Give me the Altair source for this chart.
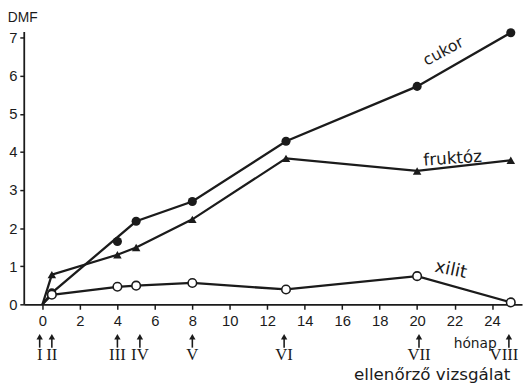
import altair as alt
import pandas as pd

# ---- data ----
months = [0.5, 4, 5, 8, 13, 20, 25]
cukor = [0.30, 1.65, 2.18, 2.70, 4.28, 5.72, 7.13]
cukor_on_line = [True, False, True, True, True, True, True]
fruktoz = [0.78, 1.30, 1.49, 2.23, 3.83, 3.50, 3.78]
xilit = [0.25, 0.46, 0.49, 0.56, 0.39, 0.74, 0.05]
origin_month = 0
origin_value = 0

# arrow positions of the check-ups as read on the month axis
visit_months = [-0.15, 0.5, 4, 5.2, 8, 12.9, 20.1, 24.9]
visit_labels = ["I", "II", "III", "IV", "V", "VI", "VII", "VIII"]

x_ticks = list(range(0, 25, 2))
y_ticks = list(range(0, 8))

series_names = ["cukor", "fruktóz", "xilit"]
label_x = [21.4, 21.9, 21.8]
label_y = [6.64, 3.82, 0.90]
label_angle = [332, 356, 12]
label_size = [16, 17, 18]

INK = "#1b1b1b"
SANS = "Liberation Sans"
WIDE = "DejaVu Sans"
SERIF = "Liberation Serif"

# ---- tables ----
series_values = {"cukor": cukor, "fruktóz": fruktoz, "xilit": xilit}
masks = {"cukor": cukor_on_line,
         "fruktóz": [True] * len(months),
         "xilit": [True] * len(months)}

line_rows, point_rows = [], []
for name in series_names:
    line_rows.append({"series": name, "month": origin_month, "value": origin_value})
    for m, v, keep in zip(months, series_values[name], masks[name]):
        point_rows.append({"series": name, "month": m, "value": v})
        if keep:
            line_rows.append({"series": name, "month": m, "value": v})
lines_df = pd.DataFrame(line_rows)
points_df = pd.DataFrame(point_rows)
visits_df = pd.DataFrame({"month": visit_months, "label": visit_labels})
labels_df = pd.DataFrame({"series": series_names, "x": label_x, "y": label_y,
                          "angle": label_angle, "size": label_size})

xscale = alt.Scale(domain=[-1, 25.6], nice=False, zero=False)
yscale = alt.Scale(domain=[0, 7.16], nice=False)

xaxis = alt.Axis(values=x_ticks, grid=False, title=None, domainColor=INK, domainWidth=1.8,
                 tickColor=INK, tickWidth=1.5, tickSize=5, labelFont=SANS, labelFontSize=15,
                 labelColor=INK, labelPadding=5, labelFlush=False, labelOverlap=False)
yaxis = alt.Axis(values=y_ticks, grid=False, title=None, domainColor=INK, domainWidth=1.8,
                 tickColor=INK, tickWidth=1.5, tickSize=4, labelFont=SANS, labelFontSize=15,
                 labelColor=INK, labelPadding=3, labelOverlap=False, labelFlush=False)


def X(field):
    return alt.X(field, scale=xscale, axis=xaxis)


def Y(field):
    return alt.Y(field, scale=yscale, axis=yaxis)


lines = alt.Chart(lines_df).mark_line(color=INK, strokeWidth=2.3).encode(
    x=X("month:Q"),
    y=Y("value:Q"),
    detail="series:N",
    order="month:Q",
)

base_pts = alt.Chart(points_df).encode(x=X("month:Q"), y=Y("value:Q"))
pts_cukor = base_pts.transform_filter(alt.datum.series == "cukor").mark_point(
    shape="circle", filled=True, size=85, color=INK, opacity=1)
pts_fruktoz = base_pts.transform_filter(alt.datum.series == "fruktóz").mark_point(
    shape="triangle-up", filled=True, size=75, color=INK, opacity=1)
pts_xilit = base_pts.transform_filter(alt.datum.series == "xilit").mark_point(
    shape="circle", filled=True, size=75, fill="white", stroke=INK, strokeWidth=1.6, opacity=1)

series_labels = alt.Chart(labels_df).mark_text(
    font=WIDE, color=INK, align="center", baseline="middle").encode(
    x=X("x:Q"),
    y=Y("y:Q"),
    text="series:N",
    angle=alt.Angle("angle:Q", scale=None),
    size=alt.Size("size:Q", scale=None, legend=None),
)

shafts = alt.Chart(visits_df).mark_rule(color=INK, strokeWidth=1.6).encode(
    x=X("month:Q"), y=alt.value(311), y2=alt.value(321))
heads = alt.Chart(visits_df).mark_point(
    shape="triangle-up", filled=True, size=42, color=INK, opacity=1).encode(
    x=X("month:Q"), y=alt.value(310))
romans = alt.Chart(visits_df).transform_filter(alt.datum.label != "VIII").mark_text(
    font=SERIF, fontSize=17, color=INK, baseline="alphabetic").encode(
    x=X("month:Q"), y=alt.value(334), text="label:N")
romans_last = alt.Chart(visits_df).transform_filter(alt.datum.label == "VIII").mark_text(
    font=SERIF, fontSize=17, color=INK, baseline="alphabetic", dx=-5).encode(
    x=X("month:Q"), y=alt.value(334), text="label:N")

dmf = alt.Chart(pd.DataFrame({"t": ["DMF"]})).mark_text(
    font=SANS, fontSize=14, color=INK, baseline="middle", align="center").encode(
    x=alt.value(-1), y=alt.value(-14), text="t:N")
honap = alt.Chart(pd.DataFrame({"t": ["hónap"], "x": [23.1]})).mark_text(
    font=WIDE, fontSize=14, color=INK, baseline="alphabetic", align="center").encode(
    x=X("x:Q"), y=alt.value(321), text="t:N")
ellen = alt.Chart(pd.DataFrame({"t": ["ellenőrző vizsgálat"], "x": [20.8]})).mark_text(
    font=WIDE, fontSize=17, color=INK, baseline="alphabetic", align="center").encode(
    x=X("x:Q"), y=alt.value(354), text="t:N")

chart = alt.layer(
    lines, pts_cukor, pts_fruktoz, pts_xilit, series_labels,
    shafts, heads, romans, romans_last, dmf, honap, ellen,
).properties(
    width=506, height=277,
    padding={"left": 16, "top": 21, "right": 1, "bottom": 78},
    autosize=alt.AutoSizeParams(type="none"),
    background="white",
).configure_view(stroke=None)

chart.save("out.html", embed_options={"renderer": "svg", "actions": False})
